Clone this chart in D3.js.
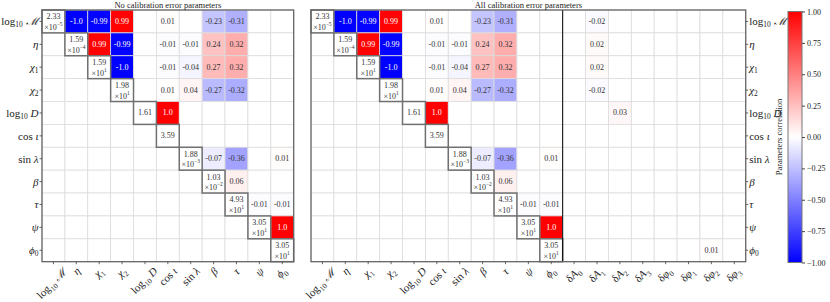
<!DOCTYPE html>
<html>
<head>
<meta charset="utf-8">
<script src="https://cdn.jsdelivr.net/npm/d3@7"></script>
<style>
  body { margin: 0; background: #fff; }
  text { font-family: "Liberation Serif", "DejaVu Serif", serif; fill: #222; }
</style>
</head>
<body>
<svg id="chart" width="830" height="302"></svg>
<script>
// parameter names, written as [text, kind] tokens ("r" roman, "i" italic, "sub" subscript)
const paramLabels = [
  [["log", "r"], ["10", "sub"], [" ℳ", "i"]],
  [["η", "i"]],
  [["χ", "i"], ["1", "sub"]],
  [["χ", "i"], ["2", "sub"]],
  [["log", "r"], ["10", "sub"], [" D", "i"]],
  [["cos ", "r"], ["ι", "i"]],
  [["sin ", "r"], ["λ", "i"]],
  [["β", "i"]],
  [["τ", "i"]],
  [["ψ", "i"]],
  [["ϕ", "i"], ["0", "sub"]]
];
const calLabels = [
  [["δ", "r"], ["A", "i"], ["0", "sub"]],
  [["δ", "r"], ["A", "i"], ["1", "sub"]],
  [["δ", "r"], ["A", "i"], ["2", "sub"]],
  [["δ", "r"], ["A", "i"], ["3", "sub"]],
  [["δ", "r"], ["φ", "i"], ["0", "sub"]],
  [["δ", "r"], ["φ", "i"], ["1", "sub"]],
  [["δ", "r"], ["φ", "i"], ["2", "sub"]],
  [["δ", "r"], ["φ", "i"], ["3", "sub"]]
];

// diagonal: standard deviations (mantissa x 10^exp)
const sigmaMant = [2.33, 1.59, 1.59, 1.98, 1.61, 3.59, 1.88, 1.03, 4.93, 3.05, 3.05];
const sigmaExp  = [-5, -4, 1, 1, 0, 0, -3, -2, 1, 1, 1];

// correlation rows (upper triangle only, null below / on diagonal); 11 params + 8 calibration params
const corrLogM  = [null, -1.0, -0.99, 0.99, 0, 0.01, 0, -0.23, -0.31, 0, 0,   0, -0.02, 0, 0, 0, 0, 0, 0];
const corrEta   = [null, null, 0.99, -0.99, 0, -0.01, -0.01, 0.24, 0.32, 0, 0, 0, 0.02, 0, 0, 0, 0, 0, 0];
const corrChi1  = [null, null, null, -1.0, 0, -0.01, -0.04, 0.27, 0.32, 0, 0, 0, 0.02, 0, 0, 0, 0, 0, 0];
const corrChi2  = [null, null, null, null, 0, 0.01, 0.04, -0.27, -0.32, 0, 0, 0, -0.02, 0, 0, 0, 0, 0, 0];
const corrLogD  = [null, null, null, null, null, 1.0, 0, 0, 0, 0, 0,         0, 0, 0.03, 0, 0, 0, 0, 0];
const corrCosI  = [null, null, null, null, null, null, 0, 0, 0, 0, 0,        0, 0, 0, 0, 0, 0, 0, 0];
const corrSinL  = [null, null, null, null, null, null, null, -0.07, -0.36, 0, 0.01, 0, 0, 0, 0, 0, 0, 0, 0];
const corrBeta  = [null, null, null, null, null, null, null, null, 0.06, 0, 0, 0, 0, 0, 0, 0, 0, 0, 0];
const corrTau   = [null, null, null, null, null, null, null, null, null, -0.01, -0.01, 0, 0, 0, 0, 0, 0, 0, 0];
const corrPsi   = [null, null, null, null, null, null, null, null, null, null, 1.0, 0, 0, 0, 0, 0, 0, 0, 0];
const corrPhi0  = [null, null, null, null, null, null, null, null, null, null, null, 0, 0, 0, 0, 0, 0, 0.01, 0];
const corr = [corrLogM, corrEta, corrChi1, corrChi2, corrLogD, corrCosI, corrSinL, corrBeta, corrTau, corrPsi, corrPhi0];

const cbTicks = [-1, -0.75, -0.5, -0.25, 0, 0.25, 0.5, 0.75, 1];

const svg = d3.select("#chart");
const cell = 22.88, top0 = 10, nRows = paramLabels.length;
const color = d3.scaleLinear().domain([-1, 0, 1]).range(["#0000ff", "#ffffff", "#ff0000"]);

function fmt(v) {
  const r = Math.round(v * 100) / 100;
  return Number.isInteger(r) ? r.toFixed(1) : String(r);
}

function addLabel(t, tokens, size) {
  let shift = 0;
  tokens.forEach(([s, k]) => {
    const sub = k === "sub";
    const off = sub ? 3 : 0;
    t.append("tspan")
      .attr("dy", off - shift)
      .attr("font-size", sub ? size * 0.68 : size)
      .attr("font-style", k === "i" ? "italic" : "normal")
      .style("fill", "#222")
      .text(s);
    shift = off;
  });
}

function drawPanel(id, x0, nCols, title, ySide) {
  const labels = paramLabels.concat(calLabels).slice(0, nCols);
  const x = d3.scaleBand().domain(d3.range(nCols)).range([x0, x0 + nCols * cell]);
  const y = d3.scaleBand().domain(d3.range(nRows)).range([top0, top0 + nRows * cell]);
  const g = svg.append("g");

  const cells = [];
  d3.range(nRows).forEach(r => d3.range(nCols).forEach(c => cells.push({r, c, v: corr[r][c]})));

  g.selectAll("rect.cell").data(cells).join("rect")
    .attr("class", "cell")
    .attr("x", d => x(d.c)).attr("y", d => y(d.r))
    .attr("width", x.bandwidth()).attr("height", y.bandwidth())
    .attr("fill", d => d.v == null ? "#fff" : color(d.v))
    .attr("stroke", "#dcdcdc").attr("stroke-width", 0.8);

  g.selectAll("text.val").data(cells.filter(d => d.v != null && Math.abs(Math.round(d.v * 100)) >= 1))
    .join("text")
    .attr("class", "val")
    .attr("x", d => x(d.c) + x.bandwidth() / 2)
    .attr("y", d => y(d.r) + y.bandwidth() / 2)
    .attr("text-anchor", "middle").attr("dominant-baseline", "central")
    .attr("font-size", 8)
    .style("fill", d => Math.abs(d.v) > 0.6 ? "#fff" : "#333")
    .text(d => fmt(d.v));

  // diagonal: std values, clipped to their cell
  const defs = svg.append("defs");
  d3.range(nRows).forEach(i => {
    defs.append("clipPath").attr("id", id + "clip" + i)
      .append("rect").attr("x", x(i)).attr("y", y(i)).attr("width", cell).attr("height", cell);
    const cx = x(i) + cell / 2, cy = y(i) + cell / 2;
    const dg = g.append("g").attr("clip-path", "url(#" + id + "clip" + i + ")");
    if (sigmaExp[i] === 0) {
      dg.append("text").attr("x", cx).attr("y", cy).attr("text-anchor", "middle")
        .attr("dominant-baseline", "central").attr("font-size", 8).style("fill", "#333")
        .text(sigmaMant[i].toFixed(2));
    } else {
      dg.append("text").attr("x", cx).attr("y", cy - 4.5).attr("text-anchor", "middle")
        .attr("dominant-baseline", "central").attr("font-size", 8).style("fill", "#333")
        .text(sigmaMant[i].toFixed(2));
      const t = dg.append("text").attr("x", cx).attr("y", cy + 5.5).attr("text-anchor", "middle")
        .attr("dominant-baseline", "central").attr("font-size", 8).style("fill", "#333");
      t.append("tspan").text("×10");
      t.append("tspan").attr("dy", -3).attr("font-size", 5.5)
        .text(String(sigmaExp[i]).replace("-", "−"));
    }
    g.append("rect").attr("x", x(i)).attr("y", y(i)).attr("width", cell).attr("height", cell)
      .attr("fill", "none").attr("stroke", "#707070").attr("stroke-width", 1.5);
  });

  if (nCols > nRows) {
    g.append("line").attr("x1", x(nRows)).attr("x2", x(nRows))
      .attr("y1", top0).attr("y2", top0 + nRows * cell)
      .attr("stroke", "#000").attr("stroke-width", 1);
  }

  const w = nCols * cell, h = nRows * cell;
  g.append("rect").attr("x", x0).attr("y", top0).attr("width", w).attr("height", h)
    .attr("fill", "none").attr("stroke", "#666").attr("stroke-width", 1.3);

  g.append("text").attr("x", x0 + w / 2).attr("y", 8).attr("text-anchor", "middle")
    .attr("font-size", 8.5).text(title);

  // y ticks and labels
  const yl = ySide === "left" ? x0 : x0 + w;
  const dir = ySide === "left" ? -1 : 1;
  d3.range(nRows).forEach(i => {
    const cy = y(i) + cell / 2;
    g.append("line").attr("x1", yl).attr("x2", yl + dir * 2.5).attr("y1", cy).attr("y2", cy)
      .attr("stroke", "#444").attr("stroke-width", 0.8);
    const t = g.append("text").attr("x", yl + dir * 3.5).attr("y", cy)
      .attr("text-anchor", dir < 0 ? "end" : "start").attr("dominant-baseline", "central");
    addLabel(t, paramLabels[i], 11);
  });

  // x ticks and rotated labels
  const by = top0 + h;
  labels.forEach((lab, i) => {
    const cx = x(i) + cell / 2;
    g.append("line").attr("x1", cx).attr("x2", cx).attr("y1", by).attr("y2", by + 2.5)
      .attr("stroke", "#444").attr("stroke-width", 0.8);
    const lg = g.append("g");
    const t = lg.append("text").attr("text-anchor", "middle");
    addLabel(t, lab, 11);
    const b = t.node().getBBox();
    const W = (b.width + b.height) / Math.SQRT2;
    lg.attr("transform", `translate(${cx},${by + 3 + W / 2}) rotate(-45) translate(${-(b.x + b.width / 2)},${-(b.y + b.height / 2)})`);
  });
}

drawPanel("a", 42, 11, "No calibration error parameters", "left");
drawPanel("b", 311, 19, "All calibration error parameters", "right");

// colorbar
const cbX = 788, cbW = 14, cbTop = 11.5, cbBot = 262.5;
const grad = svg.append("defs").append("linearGradient").attr("id", "cbgrad")
  .attr("x1", 0).attr("x2", 0).attr("y1", 0).attr("y2", 1);
grad.append("stop").attr("offset", "0%").attr("stop-color", color(1));
grad.append("stop").attr("offset", "50%").attr("stop-color", color(0));
grad.append("stop").attr("offset", "100%").attr("stop-color", color(-1));
svg.append("rect").attr("x", cbX).attr("y", cbTop).attr("width", cbW).attr("height", cbBot - cbTop)
  .attr("fill", "url(#cbgrad)").attr("stroke", "#777").attr("stroke-width", 1);
const yc = d3.scaleLinear().domain([-1, 1]).range([cbBot, cbTop]);
const cbAxis = svg.append("g").attr("transform", `translate(${cbX + cbW},0)`)
  .call(d3.axisRight(yc).tickValues(cbTicks).tickSize(3).tickFormat(d3.format(".2f")))
  .attr("font-family", "Liberation Serif, DejaVu Serif, serif");
cbAxis.select(".domain").remove();
cbAxis.selectAll("line").attr("stroke", "#444");
cbAxis.selectAll("text").attr("font-size", 8).attr("x", 5).style("fill", "#222");
svg.append("text").attr("transform", "translate(779,137) rotate(-90)")
  .attr("text-anchor", "middle").attr("dominant-baseline", "central")
  .attr("font-size", 8.5).text("Parameters correlation");
</script>
</body>
</html>
